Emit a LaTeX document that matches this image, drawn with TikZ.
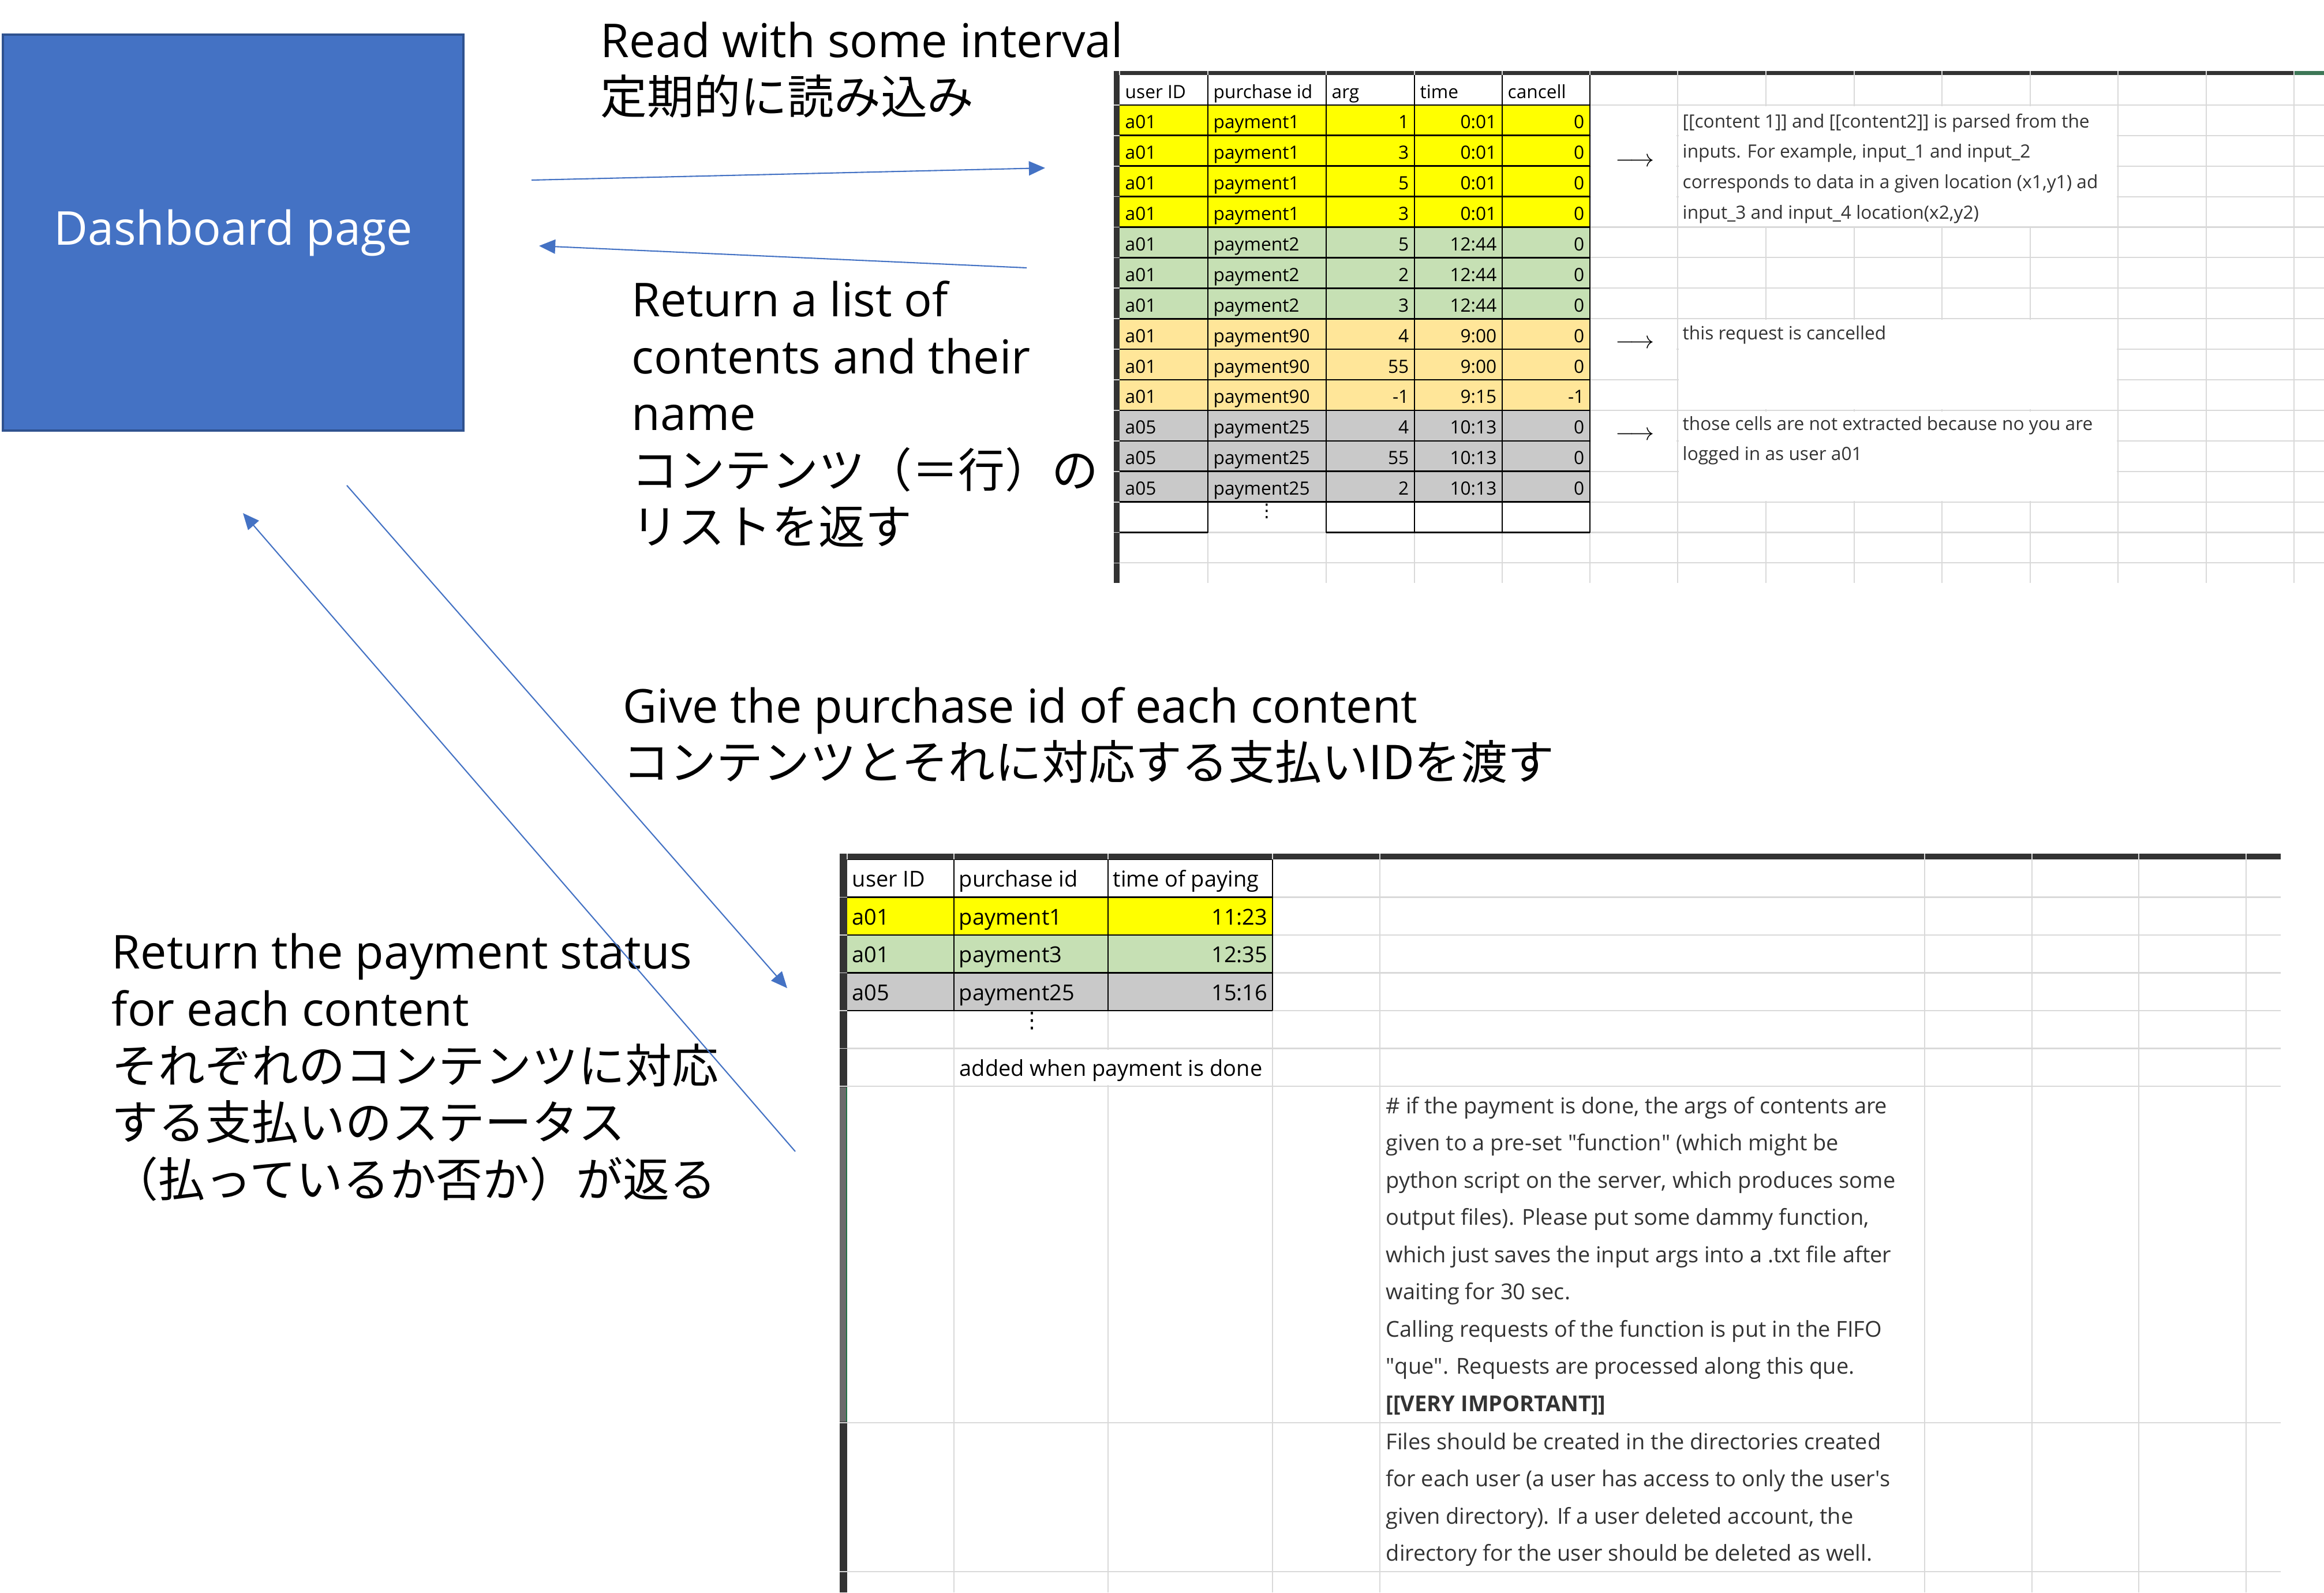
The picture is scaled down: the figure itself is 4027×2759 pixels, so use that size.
\documentclass[tikz,border=0pt]{standalone}
\usepackage{fontspec}
\setmainfont{Open Sans}
\newfontfamily\jpfont{Noto Sans CJK JP}
\newfontfamily\symfont{DejaVu Sans}
\usetikzlibrary{arrows.meta, positioning}

\definecolor{dashblue}{HTML}{4472C4}
\definecolor{dashedge}{HTML}{2F528F}
\definecolor{cyel}{HTML}{FFFF00}
\definecolor{cgrn}{HTML}{C6E0B4}
\definecolor{cgold}{HTML}{FFE699}
\definecolor{cgry}{HTML}{C9C9C9}
\definecolor{gridc}{HTML}{D9D9D9}
\definecolor{barc}{HTML}{333333}
\definecolor{selbar}{HTML}{6B6B6B}
\definecolor{selgreen}{HTML}{217346}

\tikzset{
  dashbox/.style={draw=dashedge, fill=dashblue, line width=1.2pt, minimum width=7.98cm, minimum height=6.85cm, text=white, font=\fontsize{23}{28}\selectfont},
  txtlbl/.style={font=\fontsize{23}{28}\selectfont, inner sep=0pt, anchor=base west},
  txtjp/.style={txtlbl, font=\jpfont\fontsize{23}{28}\selectfont},
  flow/.style={draw=dashblue, line width=0.6pt, -{Triangle[length=8pt, width=7pt]}},
  xlgrid/.style={draw=gridc, line width=0.6pt},
  xlline/.style={draw=black, line width=0.75pt},
  cellS/.style={font=\fontsize{9}{10}\selectfont, inner sep=0pt, anchor=base west},
  cellSr/.style={cellS, anchor=base east},
  cellL/.style={font=\fontsize{10.8}{12}\selectfont, inner sep=0pt, anchor=base west},
  cellLr/.style={cellL, anchor=base east},
  noteS/.style={cellS, text=black!80},
  noteL/.style={cellL, text=black!80},
  pointer/.style={font=\fontsize{11.5}{12}\selectfont, inner sep=0pt}
}

\begin{document}
\begin{tikzpicture}[x=0.01cm, y=-0.01cm]

  % Hintergrund
  \fill[white] (0,0) rectangle (4027,2759);
  \useasboundingbox (0,0) rectangle (4027,2759);

  % Dashboard
  \node[dashbox] (dash) at (404,403) {Dashboard page};

  % Tabelle oben: Raster
  \foreach \k in {1,...,16}
    \draw[xlgrid] (1940,{129+52.9*\k}) -- (4027,{129+52.9*\k});
  \foreach \x in {2093,2298,2451,2603,2755,2907,3060,3213,3365,3518,3670,3823,3975}
    \draw[xlgrid] (\x,130) -- (\x,1010);
  \foreach \xa/\xb/\ra/\rb in {2755/2907/1/5, 2907/3670/1/5, 2755/2907/8/10, 2907/3670/8/11, 2755/2907/11/13, 2907/3670/11/14}
    \fill[white] ({\xa+2},{129+52.9*\ra+2}) rectangle ({\xb-2},{129+52.9*\rb-2});

  % Tabelle oben: Zeilen
  \node[cellS] (h1) at (1949,170) {user ID};
  \node[cellS] (h2) at (2102,170) {purchase id};
  \node[cellS] (h3) at (2307,170) {arg};
  \node[cellS] (h4) at (2460,170) {time};
  \node[cellS] (h5) at (2612,170) {cancell};
  \foreach \r/\uid/\pid/\ag/\tm/\cn/\fc in {
      1/a01/payment1/1/0:01/0/cyel, 2/a01/payment1/3/0:01/0/cyel,
      3/a01/payment1/5/0:01/0/cyel, 4/a01/payment1/3/0:01/0/cyel,
      5/a01/payment2/5/12:44/0/cgrn, 6/a01/payment2/2/12:44/0/cgrn,
      7/a01/payment2/3/12:44/0/cgrn, 8/a01/payment90/4/9:00/0/cgold,
      9/a01/payment90/55/9:00/0/cgold, 10/a01/payment90/-1/9:15/-1/cgold,
      11/a05/payment25/4/10:13/0/cgry, 12/a05/payment25/55/10:13/0/cgry,
      13/a05/payment25/2/10:13/0/cgry}
  {
    \fill[\fc] (1940,{129+52.9*\r}) rectangle (2755,{129+52.9*(\r+1)});
    \node[cellS] (u\r) at (1949,{129+52.9*(\r+1)-12}) {\uid};
    \node[cellS] (p\r) at (2102,{129+52.9*(\r+1)-12}) {\pid};
    \node[cellSr] (a\r) at (2442,{129+52.9*(\r+1)-12}) {\ag};
    \node[cellSr] (t\r) at (2594,{129+52.9*(\r+1)-12}) {\tm};
    \node[cellSr] (c\r) at (2746,{129+52.9*(\r+1)-12}) {\cn};
  }
  \foreach \k in {0,...,14}
    \draw[xlline] (1940,{129+52.9*\k}) -- (2755,{129+52.9*\k});
  \foreach \x in {2093,2298,2451,2603,2755}
    \draw[xlline] (\x,129) -- (\x,{129+52.9*15});
  \draw[xlline] (1940,{129+52.9*15}) -- (2093,{129+52.9*15});
  \draw[xlline] (2298,{129+52.9*15}) -- (2755,{129+52.9*15});
  \node[cellS, anchor=north, font=\symfont\fontsize{9}{10}\selectfont] (dots1) at (2195,872) {⋮};

  % Tabelle oben: Notizen
  \node[pointer] (arr1) at (2833,281) {$\longrightarrow$};
  \node[pointer] (arr2) at (2833,596) {$\longrightarrow$};
  \node[pointer] (arr3) at (2833,755) {$\longrightarrow$};
  \foreach \t [count=\i from 0] in {{[[content 1]] and [[content2]] is parsed from the},
      {inputs. For example, input\_1 and input\_2},
      {corresponds to data in a given location (x1,y1) ad},
      {input\_3 and input\_4 location(x2,y2)}}
    \node[noteS] (na\i) at (2915,{221+52.9*\i}) {\t};
  \node[noteS] (nb0) at (2915,588) {this request is cancelled};
  \node[noteS] (nc0) at (2915,745) {those cells are not extracted because no you are};
  \node[noteS] (nc1) at (2915,797) {logged in as user a01};

  % Tabelle oben: Rand
  \fill[barc] (1930,123) rectangle (1940,1010);
  \fill[barc] (1930,123) rectangle (4027,130);
  \fill[selgreen!70!gray] (3976,123) rectangle (4027,130);
  \foreach \k in {1,...,16}
    \draw[gridc, line width=0.5pt] (1930,{129+52.9*\k}) -- (1940,{129+52.9*\k});
  \foreach \x in {1940,2093,2298,2451,2603,2755,2907,3060,3213,3365,3518,3670,3823,3975}
    \draw[gridc, line width=0.5pt] (\x,123) -- (\x,130);

  % Tabelle unten: Raster
  \foreach \y in {1554.5,1620,1685.5,1751,1816.5,1882,2465,2723}
    \draw[xlgrid] (1468,\y) -- (3952,\y);
  \foreach \x in {1653,1920,2205,2391,3335,3521,3706,3892}
    \draw[xlgrid] (\x,1489) -- (\x,2759);
  \fill[white] (1655,1818.5) rectangle (2203,1880);

  % Tabelle unten: Zeilen
  \node[cellL] (hh1) at (1476,1536) {user ID};
  \node[cellL] (hh2) at (1661,1536) {purchase id};
  \node[cellL] (hh3) at (1928,1536) {time of paying};
  \foreach \r/\uid/\pid/\tm/\fc in {1/a01/payment1/11:23/cyel, 2/a01/payment3/12:35/cgrn, 3/a05/payment25/15:16/cgry}
  {
    \fill[\fc] (1468,{1489+65.5*\r}) rectangle (2205,{1489+65.5*(\r+1)});
    \node[cellL] (uu\r) at (1476,{1489+65.5*(\r+1)-18}) {\uid};
    \node[cellL] (pp\r) at (1661,{1489+65.5*(\r+1)-18}) {\pid};
    \node[cellLr] (tt\r) at (2197,{1489+65.5*(\r+1)-18}) {\tm};
  }
  \foreach \k in {0,...,4}
    \draw[xlline] (1468,{1489+65.5*\k}) -- (2205,{1489+65.5*\k});
  \foreach \x in {1653,1920,2205}
    \draw[xlline] (\x,1489) -- (\x,1751);
  \node[cellL, anchor=north, font=\symfont\fontsize{10.8}{12}\selectfont] (dots2) at (1788,1753) {⋮};
  \node[cellL] (added) at (1662,1864) {added when payment is done};

  % Tabelle unten: Notizen
  \foreach \t [count=\i from 0] in {{\# if the payment is done, the args of contents are},
      {given to a pre-set \textquotedbl function\textquotedbl{} (which might be},
      {python script on the server, which produces some},
      {output files). Please put some dammy function,},
      {which just saves the input args into a .txt file after},
      {waiting for 30 sec.},
      {Calling requests of the function is put in the FIFO},
      {\textquotedbl que\textquotedbl. Requests are processed along this que.},
      {\bfseries [[VERY IMPORTANT]]}}
    \node[noteL] (nd\i) at (2401,{1929+64.5*\i}) {\t};
  \foreach \t [count=\i from 0] in {{Files should be created in the directories created},
      {for each user (a user has access to only the user\textquotesingle s},
      {given directory). If a user deleted account, the},
      {directory for the user should be deleted as well.}}
    \node[noteL] (ne\i) at (2401,{2511+64.5*\i}) {\t};

  % Tabelle unten: Rand
  \fill[barc] (1455,1479) rectangle (1468,2759);
  \fill[barc] (1455,1479) rectangle (3952,1489);
  \fill[selbar] (1455,1884) rectangle (1466,2463);
  \draw[selgreen, line width=0.6pt] (1467,1884) -- (1467,2463);
  \foreach \y in {1554.5,1620,1685.5,1751,1816.5,1882,2465,2723}
    \draw[gridc, line width=0.5pt] (1455,\y) -- (1468,\y);
  \foreach \x in {1468,1653,1920,2205,2391,3335,3521,3706,3892}
    \draw[gridc, line width=0.5pt] (\x,1479) -- (\x,1489);

  % Beschriftungen
  \node[txtlbl] (read1) at (1040,99) {Read with some interval};
  \node[txtjp] (read2) at (1040,197) {定期的に読み込み};
  \node[txtlbl] (list1) at (1094,548) {Return a list of};
  \node[txtlbl] (list2) at (1094,647) {contents and their};
  \node[txtlbl] (list3) at (1094,745) {name};
  \node[txtjp] (list4) at (1094,844) {コンテンツ（＝行）の};
  \node[txtjp] (list5) at (1094,942) {リストを返す};
  \node[txtlbl] (give1) at (1079,1252) {Give the purchase id of each content};
  \node[txtjp] (give2) at (1079,1350) {コンテンツとそれに対応する支払いIDを渡す};
  \node[txtlbl] (stat1) at (193,1678) {Return the payment status};
  \node[txtlbl] (stat2) at (193,1777) {for each content};
  \node[txtjp] (stat3) at (193,1876) {それぞれのコンテンツに対応};
  \node[txtjp] (stat4) at (193,1974) {する支払いのステータス};
  \node[txtjp] (stat5) at (193,2073) {（払っているか否か）が返る};

  % Pfeile
  \coordinate (readS) at (921,312);
  \coordinate (readE) at (1811,291);
  \coordinate (listS) at (1779,464);
  \coordinate (listE) at (934,426);
  \coordinate (giveS) at (601,841);
  \coordinate (giveE) at (1364,1712);
  \coordinate (statS) at (1378,1995);
  \coordinate (statE) at (421,889);
  \draw[flow] (readS) -- (readE);
  \draw[flow] (listS) -- (listE);
  \draw[flow] (giveS) -- (giveE);
  \draw[flow] (statS) -- (statE);

\end{tikzpicture}
\end{document}
